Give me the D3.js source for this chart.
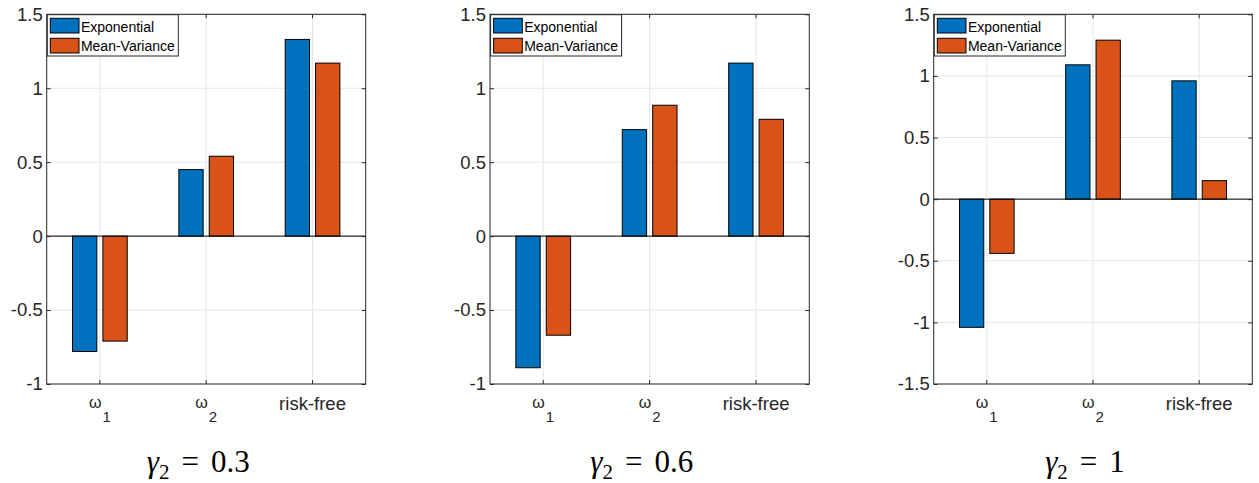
<!DOCTYPE html>
<html>
<head>
<meta charset="utf-8">
<script src="https://cdn.jsdelivr.net/npm/d3@7"></script>
<style>
  html, body { margin: 0; padding: 0; background: #ffffff; }
  svg { display: block; }
</style>
</head>
<body>
<svg id="chart" width="1259" height="483"></svg>
<script>
// Portfolio weights per asset for three risk-aversion settings
const categories = ["w1", "w2", "risk-free"];
const seriesNames = ["Exponential", "Mean-Variance"];
const gammaValues = ["0.3", "0.6", "1"];

const exponential = [
  [-0.78, 0.45, 1.33],
  [-0.89, 0.72, 1.17],
  [-1.04, 1.09, 0.96]
];
const meanVariance = [
  [-0.71, 0.54, 1.17],
  [-0.67, 0.885, 0.79],
  [-0.44, 1.29, 0.15]
];

const yDomains = [[-1, 1.5], [-1, 1.5], [-1.5, 1.5]];
const yTickSets = [
  [-1, -0.5, 0, 0.5, 1, 1.5],
  [-1, -0.5, 0, 0.5, 1, 1.5],
  [-1.5, -1, -0.5, 0, 0.5, 1, 1.5]
];

const colors = ["#0072BD", "#D95319"];
const axisColor = "#262626";
const gridColor = "#e6e6e6";
const sansFont = "'Liberation Sans'";
const serifFont = "'Liberation Serif'";

// Axes placement for each panel
const panels = [
  { left: 46.7, right: 365.7 },
  { left: 490.0, right: 809.3 },
  { left: 933.7, right: 1252.3 }
];
const axTop = 14.3, axBottom = 384;

const svg = d3.select("#chart");

panels.forEach((p, i) => {
  const w = p.right - p.left, h = axBottom - axTop;
  const g = svg.append("g").attr("transform", `translate(${p.left},${axTop})`);

  const x = d3.scaleBand().domain(categories).range([0, w]).paddingInner(0).paddingOuter(0);
  const bw = x.bandwidth();
  const x1 = d3.scaleBand().domain(seriesNames)
    .range([bw * (0.5 - 0.2572), bw * (0.5 + 0.2572)]).paddingInner(0.2);
  const y = d3.scaleLinear().domain(yDomains[i]).range([h, 0]);
  const yTicks = yTickSets[i];

  // grid
  g.append("g").selectAll("line").data(yTicks).join("line")
    .attr("x1", 0).attr("x2", w)
    .attr("y1", d => y(d)).attr("y2", d => y(d))
    .attr("stroke", gridColor).attr("stroke-width", 1);
  g.append("g").selectAll("line").data(categories).join("line")
    .attr("x1", d => x(d) + bw / 2).attr("x2", d => x(d) + bw / 2)
    .attr("y1", 0).attr("y2", h)
    .attr("stroke", gridColor).attr("stroke-width", 1);

  // bars
  const rows = categories.map((c, k) => ({
    cat: c,
    vals: [exponential[i][k], meanVariance[i][k]]
  }));
  const grp = g.append("g").selectAll("g").data(rows).join("g")
    .attr("transform", d => `translate(${x(d.cat)},0)`);
  grp.selectAll("rect").data(d => d.vals.map((v, s) => ({ v, s }))).join("rect")
    .attr("x", d => x1(seriesNames[d.s]))
    .attr("width", x1.bandwidth())
    .attr("y", d => y(Math.max(0, d.v)))
    .attr("height", d => Math.abs(y(d.v) - y(0)))
    .attr("fill", d => colors[d.s])
    .attr("stroke", "#000")
    .attr("stroke-width", 1);

  // baseline at zero
  g.append("line").attr("x1", 0).attr("x2", w)
    .attr("y1", y(0)).attr("y2", y(0))
    .attr("stroke", "#000").attr("stroke-width", 1);

  // axes
  const fmt = d => String(d);
  const yAxis = g.append("g").call(
    d3.axisLeft(y).tickValues(yTicks).tickFormat(fmt)
      .tickSizeInner(-4).tickSizeOuter(0).tickPadding(4));
  const yAxisR = g.append("g").attr("transform", `translate(${w},0)`).call(
    d3.axisRight(y).tickValues(yTicks).tickFormat("")
      .tickSizeInner(-4).tickSizeOuter(0));
  const xAxis = g.append("g").attr("transform", `translate(0,${h})`).call(
    d3.axisBottom(x).tickFormat("").tickSizeInner(-4).tickSizeOuter(0));
  const xAxisT = g.append("g").call(
    d3.axisTop(x).tickFormat("").tickSizeInner(-4).tickSizeOuter(0));

  [yAxis, yAxisR, xAxis, xAxisT].forEach(a => {
    a.select(".domain").remove();
    a.selectAll(".tick line").attr("stroke", axisColor);
  });
  yAxis.selectAll(".tick text")
    .attr("fill", axisColor)
    .style("font-family", sansFont)
    .style("font-size", "18.5px");

  // category labels
  const lab = g.append("g").selectAll("text").data(categories).join("text")
    .attr("x", d => x(d) + bw / 2)
    .attr("y", 410 - axTop)
    .attr("text-anchor", "middle")
    .attr("fill", axisColor)
    .style("font-family", sansFont);
  lab.each(function (d) {
    const t = d3.select(this);
    if (d.startsWith("w")) {
      t.append("tspan").text("ω").attr("dy", -2).style("font-size", "16px");
      t.append("tspan").text(d.slice(1)).attr("dx", 1).attr("dy", 14)
        .style("font-size", "15px");
    } else {
      t.text(d).style("font-size", "18.5px");
    }
  });

  // axes box
  g.append("rect").attr("x", 0).attr("y", 0).attr("width", w).attr("height", h)
    .attr("fill", "none").attr("stroke", axisColor).attr("stroke-width", 1);

  // legend
  const lg = g.append("g").attr("transform", "translate(0.6,0.4)");
  const box = lg.append("rect").attr("height", 41.3)
    .attr("fill", "#fff").attr("stroke", axisColor).attr("stroke-width", 1);
  let maxW = 0;
  seriesNames.forEach((name, s) => {
    lg.append("rect").attr("x", 3).attr("y", 3.6 + s * 20)
      .attr("width", 28.7).attr("height", 14.7)
      .attr("fill", colors[s]).attr("stroke", "#000").attr("stroke-width", 1);
    const t = lg.append("text").attr("x", 33.6).attr("y", 17 + s * 19.5)
      .attr("fill", "#000")
      .style("font-family", sansFont)
      .style("font-size", "14px").text(name);
    maxW = Math.max(maxW, t.node().getComputedTextLength());
  });
  box.attr("width", 33.6 + maxW + 3.5);

  // panel caption
  const cap = svg.append("text")
    .attr("x", (p.left + p.right) / 2 - 8)
    .attr("y", 472)
    .attr("text-anchor", "middle")
    .attr("fill", "#000")
    .style("font-family", serifFont)
    .style("font-size", "31px");
  cap.append("tspan").text("γ").style("font-family", serifFont).style("font-style", "italic");
  cap.append("tspan").text("2").attr("dy", 7).style("font-family", serifFont).style("font-size", "21px");
  cap.append("tspan").text("=").attr("dx", 12).attr("dy", -7).style("font-family", serifFont);
  cap.append("tspan").text(gammaValues[i]).attr("dx", 12).style("font-family", serifFont);
});
</script>
</body>
</html>
